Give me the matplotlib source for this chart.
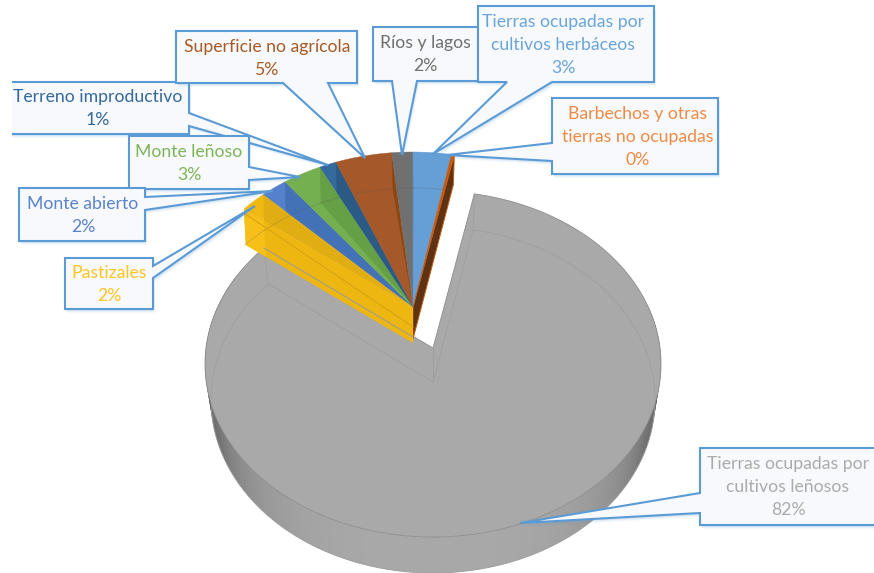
import numpy as np
import matplotlib
matplotlib.use("Agg")
import matplotlib.pyplot as plt
from matplotlib.patches import Polygon, Rectangle

plt.rcParams['font.family'] = ['Lato', 'DejaVu Sans']

# ── Data ─────────────────────────────────────────────────────────────────────
etiquetas = ["Tierras ocupadas por\ncultivos herbáceos",
             "Barbechos y otras\ntierras no ocupadas",
             "Tierras ocupadas por\ncultivos leñosos",
             "Pastizales", "Monte abierto", "Monte leñoso",
             "Terreno improductivo", "Superficie no agrícola", "Ríos y lagos"]
pct_texto = ["3%", "0%", "82%", "2%", "2%", "3%", "1%", "5%", "2%"]
# shares as they appear on the drawn (perspective) pie
cuotas = [2.7, 0.2, 83.8, 1.9, 1.9, 2.8, 1.2, 4.0, 1.5]

colores = ["#669FD6", "#C55A11", "#A9A9A9", "#F0B912", "#5580CC",
           "#74AF50", "#36699C", "#A5582A", "#707070"]
oscuros = ["#5B93CA", "#5E3314", "#A9A9A9", "#E0AE12", "#4472B6",
           "#659F46", "#2B5A85", "#8F4712", "#636363"]
texto_col = ["#6AA5DA", "#EF8A45", "#ABABAB", "#FFC520", "#5A82CB",
             "#7DB557", "#34699B", "#A85A24", "#707070"]

# ── Layout (pixels) ──────────────────────────────────────────────────────────
AZUL = "#5B9BD5"
RELLENO = "#F7F9FD"
# box x0,y0,x1,y1 ; side of pointer ; base a, base b ; tip ; text centre x, first line y
cajas = {
    6: ((-5, 82, 189, 134), 'r', 113, 126, (328, 165), 98, 97),
    5: ((129, 136, 249, 189), 'r', 167, 180, (300, 177), 189, 152),
    4: ((19, 188, 145, 241), 'r', 197, 210, (273, 191), 83, 204),
    3: ((65, 258, 153, 309), 'r', 266, 278, (255, 206), 109, 273),
    7: ((176, 31, 357, 83), 'b', 283, 328, (365, 158), 267, 47),
    8: ((373, 27, 478, 81), 'b', 392, 417, (402, 155), 425, 43),
    0: ((478, 6, 654, 82), 'b', 507, 552, (433, 154), 563, 22),
    1: ((552, 98, 718, 174), 'l', 143, 161, (447, 155), 638, 114),
    2: ((700, 448, 890, 525), 'l', 493, 513, (520, 523), 788, 464),
}
orden_cajas = [2, 6, 5, 4, 3, 7, 8, 0, 1]

RX, RY = 228, 173
CX_F, CY_F, AP_F = 413, 325, 307      # front group (the small slices)
CX_G, CY_G, AP_G = 433, 364, 348      # exploded grey slice
PROF = 36


def borde(t, cx, cy, rx=RX, ry=RY):
    t = np.radians(t)
    return np.column_stack([cx + rx * np.sin(t), cy - ry * np.cos(t)])


fig = plt.figure(figsize=(8.74, 5.73), dpi=100)
ax = fig.add_axes([0, 0, 1, 1])
ax.set_xlim(0, 874)
ax.set_ylim(573, 0)
ax.axis('off')

cuotas = np.array(cuotas)
fin = np.cumsum(cuotas) / cuotas.sum() * 360
ini = np.r_[0, fin[:-1]]

# ── Exploded grey slice ──────────────────────────────────────────────────────
i_g = 2
ts = np.linspace(70, 300, 240)
for a, b in zip(ts[:-1], ts[1:]):
    g = 0.66 - 0.36 * min(abs(a - 180) / 85, 1) ** 3
    quad = np.vstack([borde(np.array([a, b + 0.7]), CX_G, CY_G),
                      borde(np.array([b + 0.7, a]), CX_G, CY_G + 36, RX - 6, RY)])
    ax.add_patch(Polygon(quad, fc=str(g), ec="none", zorder=1))

arco = borde(np.linspace(ini[i_g], fin[i_g], 300), CX_G, CY_G)
ax.add_patch(Polygon(np.vstack([[CX_G, AP_G], arco]), fc=colores[i_g],
                     ec="#8E8E8E", lw=0.6, zorder=2))
# inner walls seen through the surface
FAINT = dict(color="#9F9F9F", lw=0.6, zorder=3)
base = borde(np.linspace(ini[i_g], fin[i_g], 300), CX_G, CY_G + 36, RX - 6, RY)
ax.plot(base[:, 0], base[:, 1], **FAINT)
for extremo in (base[0], base[-1]):
    ax.plot([CX_G, extremo[0]], [AP_G + 34, extremo[1]], **FAINT)
ax.plot([CX_G, CX_G], [AP_G, AP_G + 34], **FAINT)
ax.plot([arco[-1, 0], base[-1, 0]], [arco[-1, 1], base[-1, 1]], **FAINT)
ax.plot([arco[0, 0], base[0, 0]], [arco[0, 1], base[0, 1]], **FAINT)

# ── Small slices ─────────────────────────────────────────────────────────────
# orange wall facing the gap
rim = borde(np.array([fin[1]]), CX_F, CY_F)[0]
ax.add_patch(Polygon([[CX_F, AP_F], rim, rim + [-1, 30], [CX_F, AP_F + 32]],
                     fc=oscuros[1], ec=colores[1], lw=0.7, zorder=4))

# yellow front wall
rim = borde(np.array([ini[3]]), CX_F, CY_F)[0]
ax.add_patch(Polygon([[CX_F, AP_F], rim, rim + [2, PROF], [CX_F, AP_F + PROF]],
                     fc="#EDB610", ec="none", zorder=4))
ax.add_patch(Polygon([rim, rim + [2, PROF], rim + [22, PROF + 12], rim + [20, 12]],
                     fc="#F7C018", ec="none", zorder=4.5))
ax.plot([rim[0], CX_F], [rim[1] + 4, AP_F + 20], color="#D5A514", lw=0.8, zorder=6)

for i in [3, 4, 5, 6, 7, 8, 0, 1]:
    arco = borde(np.linspace(ini[i], fin[i], 40), CX_F, CY_F)
    cuna = Polygon(np.vstack([[CX_F, AP_F], arco]), fc=colores[i], ec=colores[i], lw=0.3, zorder=5)
    ax.add_patch(cuna)
    if i in (1,):
        continue
    r = borde(np.array([fin[i] if i != 0 else ini[i]]), CX_F, CY_F)[0]
    som = Polygon([[CX_F, AP_F], r, r + [1, PROF], [CX_F, AP_F]],
                  fc=oscuros[i], ec="none", zorder=5.5)
    ax.add_patch(som)
    som.set_clip_path(cuna)
    b = borde(np.linspace(ini[i], fin[i], 40), CX_F, CY_F + PROF, RX - 1, RY)
    ax.plot(b[:, 0], b[:, 1], color="#555555", lw=0.6, alpha=0.25, zorder=5.7)

# the grey corner shows through the yellow wall
p = borde(np.array([fin[i_g]]), CX_G, CY_G)[0]
ax.plot([p[0], CX_G - 20], [p[1], AP_G - 11], color="#A8A280", lw=0.9, zorder=6)

# ── Callouts ─────────────────────────────────────────────────────────────────
def callout_pts(caja, lado, a, b, tip):
    x0, y0, x1, y1 = caja
    if lado == 'r':
        return [(x0, y0), (x1, y0), (x1, a), tip, (x1, b), (x1, y1), (x0, y1)]
    if lado == 'l':
        return [(x0, y0), (x1, y0), (x1, y1), (x0, y1), (x0, b), tip, (x0, a)]
    return [(x0, y0), (x1, y0), (x1, y1), (b, y1), tip, (a, y1), (x0, y1)]


for z, i in enumerate(orden_cajas):
    caja, lado, a, b, tip, tx, ty = cajas[i]
    pts = np.array(callout_pts(caja, lado, a, b, tip), dtype=float)
    zz = 10 + z
    for d, al in ((4, 0.05), (3, 0.08), (2, 0.12)):
        ax.add_patch(Polygon(pts + [d * 0.6, d], fc=AZUL, ec="none", alpha=al, zorder=zz))
    ax.add_patch(Polygon(pts, fc=RELLENO, ec=AZUL, lw=1.5, joinstyle='miter', zorder=zz))
    lineas = etiquetas[i].split("\n") + [pct_texto[i]]
    for k, linea in enumerate(lineas):
        ax.text(tx, ty + k * 23, linea, color=texto_col[i], fontsize=12.7,
                ha='center', va='center', zorder=zz)

# picture was cropped on the left
ax.add_patch(Rectangle((0, 0), 12, 573, fc='white', ec='none', zorder=40))

fig.savefig("out.png", dpi=100, facecolor='white')
